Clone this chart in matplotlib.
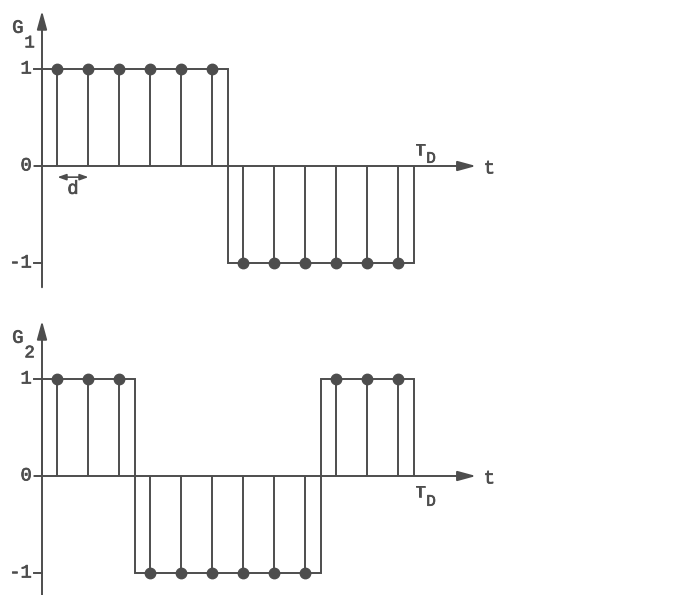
"""Sampled square waves G1 and G2 drawn as stems over their outlines."""

import numpy as np
import matplotlib.pyplot as plt
import matplotlib.patheffects as pe

# one sample per slot of width d over the period T_D
slots = np.arange(12)
g1_values = [1, 1, 1, 1, 1, 1, -1, -1, -1, -1, -1, -1]
g2_values = [1, 1, 1, -1, -1, -1, -1, -1, -1, 1, 1, 1]
panel_names = ["G", "G"]
panel_subs = ["1", "2"]
level_ticks = [1, 0, -1]
level_labels = ["1", "0", "-1"]

INK = "#4d4d4d"
FONT = "Liberation Mono"
STROKE = [pe.withStroke(linewidth=0.5, foreground=INK)]


def draw_panel(ax, values, name, sub, td_below):
    t = slots + 0.5
    edges = np.append(slots, slots[-1] + 1)

    # outline of the continuous wave, closed down to the time axis
    ax.stairs(values, edges, baseline=0, fill=False, color=INK, lw=1.4)
    ax.vlines(t, 0, values, color=INK, lw=1.4)
    ax.plot(t, values, "o", color=INK, ms=7.5, zorder=3)

    # axes drawn as arrows
    arrow = dict(arrowstyle="-|>,head_length=1.1,head_width=0.3", color=INK,
                 lw=1.4, shrinkA=0, shrinkB=0)
    ax.annotate("", xy=(0, 1.6), xytext=(0, -1.25), arrowprops=arrow)
    ax.annotate("", xy=(14.0, 0), xytext=(-0.25, 0), arrowprops=arrow)
    for level in (1, -1):
        ax.plot([-0.25, 0], [level, level], color=INK, lw=1.4)

    txt = dict(family=FONT, color=INK, path_effects=STROKE)
    for level, label in zip(level_ticks, level_labels):
        ax.text(-0.33, level, label, ha="right", va="center", fontsize=13.5, **txt)
    ax.text(14.25, -0.03, "t", ha="left", va="center", fontsize=13.5, **txt)
    ax.text(-0.78, 1.42, name, ha="center", va="center", fontsize=13.5, **txt)
    ax.text(-0.4, 1.27, sub, ha="center", va="center", fontsize=12.5, **txt)

    if td_below:
        ax.text(12.2, -0.17, "T", ha="center", va="center", fontsize=12.5, **txt)
        ax.text(12.55, -0.26, "D", ha="center", va="center", fontsize=11.5, **txt)
    else:
        ax.text(12.2, 0.16, "T", ha="center", va="center", fontsize=12.5, **txt)
        ax.text(12.55, 0.08, "D", ha="center", va="center", fontsize=11.5, **txt)

    ax.set_xlim(-42 / 31, (688 - 42) / 31)
    ax.axis("off")


fig = plt.figure(figsize=(6.88, 5.95), dpi=100)
ax_top = fig.add_axes([0, 295 / 595, 1, 300 / 595])
ax_bot = fig.add_axes([0, 0, 1, 295 / 595])

draw_panel(ax_top, g1_values, panel_names[0], panel_subs[0], td_below=False)
ax_top.set_ylim((166 - 300) / 97, 166 / 97)

# slot width marker under the first two samples
ax_top.annotate("", xy=(1.5, -0.115), xytext=(0.5, -0.115),
                arrowprops=dict(arrowstyle="<|-|>,head_length=0.5,head_width=0.18",
                                color=INK, lw=1.2, shrinkA=0, shrinkB=0))
ax_top.text(1.0, -0.24, "d", ha="center", va="center", fontsize=13.5,
            family=FONT, color=INK, path_effects=STROKE)

draw_panel(ax_bot, g2_values, panel_names[1], panel_subs[1], td_below=True)
ax_bot.set_ylim((476 - 595) / 97, (476 - 300) / 97)

fig.savefig("out.png", dpi=100)
